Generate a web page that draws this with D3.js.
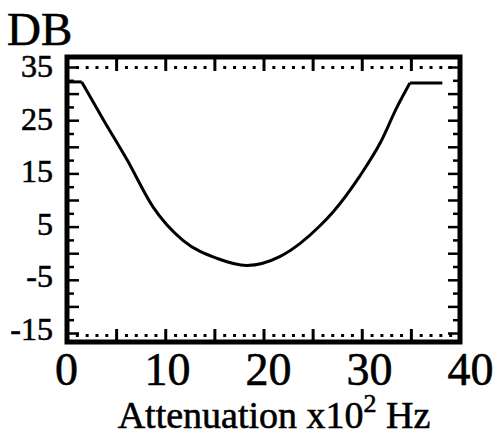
<!DOCTYPE html>
<html>
<head>
<meta charset="utf-8">
<script src="https://cdn.jsdelivr.net/npm/d3@7"></script>
<style>
  body { margin: 0; background: #fff; }
  svg { display: block; }
</style>
</head>
<body>
<div id="chart"></div>
<script>
// curve (x in 10^2 Hz, y in DB)
const freq = [0, 1.5, 3.7, 6.1, 8.75, 11.8, 15.3, 18.3, 21.7, 23.7, 25.75, 27.1, 29.8, 31.9, 33.6, 34.9, 38.2];
const db   = [32.2, 32.2, 25.1, 17.6, 8.7, 2.4, -1.0, -2.3, -0.6, 1.8, 5.15, 7.8, 14.5, 20.8, 27.5, 32.0, 32.0];

const xTicks = [0, 10, 20, 30, 40];
const yTicks = [35, 25, 15, 5, -5, -15];

const width = 494, height = 448;
const frame = {left: 67, right: 460, top: 57, bottom: 342};
const serif = '"Liberation Serif", "DejaVu Serif", serif';

const svg = d3.select('#chart').append('svg')
  .attr('width', width)
  .attr('height', height)
  .attr('viewBox', `0 0 ${width} ${height}`);

const x = d3.scaleLinear().domain([0, 40]).range([frame.left, frame.right]);
const y = d3.scaleLinear().domain([-15, 35]).range([333, 67]);
// the printed tick labels don't sit exactly on the ticks
const xLabel = d3.scaleLinear().domain([0, 40]).range([66, 470]);
const yLabel = d3.scaleLinear().domain([-15, 35]).range([329, 66]);

const ink = '#000';

function styleTicks(g, w) {
  g.select('.domain').remove();
  g.selectAll('line').attr('stroke', ink).attr('stroke-width', w);
  g.selectAll('text').remove();
}

const minorX = d3.range(1, 40).filter(d => d % 5 !== 0);
const majorX = d3.range(5, 40, 5);
const yMajor = d3.range(-15, 36, 5);
const yMinor = d3.range(-12.5, 35, 5);

// top edge: long ticks + dotted minor ticks
svg.append('g').attr('transform', `translate(0,${frame.top})`)
  .call(d3.axisBottom(x).tickValues(majorX).tickSize(14))
  .call(g => styleTicks(g, 3));
svg.append('g').attr('transform', `translate(0,${frame.top + 9})`)
  .call(d3.axisBottom(x).tickValues(minorX).tickSize(3))
  .call(g => styleTicks(g, 3));

// bottom edge
svg.append('g').attr('transform', `translate(0,${frame.bottom})`)
  .call(d3.axisTop(x).tickValues(majorX).tickSize(13))
  .call(g => styleTicks(g, 3));
svg.append('g').attr('transform', `translate(0,${frame.bottom - 5})`)
  .call(d3.axisTop(x).tickValues(minorX).tickSize(3))
  .call(g => styleTicks(g, 3));

// left and right edges
svg.append('g').attr('transform', `translate(${frame.left},0)`)
  .call(d3.axisRight(y).tickValues(yMajor).tickSize(12))
  .call(g => styleTicks(g, 2.5));
svg.append('g').attr('transform', `translate(${frame.left},0)`)
  .call(d3.axisRight(y).tickValues(yMinor).tickSize(7))
  .call(g => styleTicks(g, 2.5));
svg.append('g').attr('transform', `translate(${frame.right},0)`)
  .call(d3.axisLeft(y).tickValues(yMajor).tickSize(12))
  .call(g => styleTicks(g, 2.5));
svg.append('g').attr('transform', `translate(${frame.right},0)`)
  .call(d3.axisLeft(y).tickValues(yMinor).tickSize(7))
  .call(g => styleTicks(g, 2.5));

// frame
svg.append('rect')
  .attr('x', frame.left)
  .attr('y', frame.top)
  .attr('width', frame.right - frame.left)
  .attr('height', frame.bottom - frame.top)
  .attr('fill', 'none')
  .attr('stroke', ink)
  .attr('stroke-width', 5);

// labels (a thin stroke to get the heavy scanned look)
svg.append('g')
  .attr('transform', `translate(${frame.left},0)`)
  .call(d3.axisLeft(yLabel).tickValues(yTicks).tickSize(0).tickPadding(14).tickFormat(d => String(d)))
  .call(g => g.select('.domain').remove())
  .call(g => g.attr('font-family', serif).attr('font-size', 32))
  .call(g => g.selectAll('text').attr('fill', ink).attr('stroke', ink).attr('stroke-width', 0.6).attr('dy', '0.33em'));

svg.append('g')
  .attr('transform', `translate(0,${frame.bottom})`)
  .call(d3.axisBottom(xLabel).tickValues(xTicks).tickSize(0).tickPadding(10).tickFormat(d => String(d)))
  .call(g => g.select('.domain').remove())
  .call(g => g.attr('font-family', serif).attr('font-size', 46))
  .call(g => g.selectAll('text').attr('fill', ink).attr('stroke', ink).attr('stroke-width', 0.6));

const titles = svg.append('g')
  .attr('font-family', serif)
  .attr('fill', ink)
  .attr('stroke', ink)
  .attr('stroke-width', 0.6);
titles.append('text')
  .attr('x', 7)
  .attr('y', 45)
  .attr('font-size', 47)
  .text('DB');

const xt = titles.append('text')
  .attr('x', 274)
  .attr('y', 428)
  .attr('text-anchor', 'middle')
  .attr('font-size', 38);
xt.append('tspan').text('Attenuation x10');
xt.append('tspan').attr('font-size', 26).attr('dy', -16).text('2');
xt.append('tspan').attr('dy', 16).text('\u00a0Hz');

// curve: flat ends drawn straight, the dip smoothed
const pts = freq.map((f, i) => [f, db[i]]);
const line = d3.line().x(d => x(d[0])).y(d => y(d[1]));
const smooth = d3.line().x(d => x(d[0])).y(d => y(d[1])).curve(d3.curveMonotoneX);

const curve = svg.append('g')
  .attr('fill', 'none')
  .attr('stroke', ink)
  .attr('stroke-width', 3)
  .attr('stroke-linejoin', 'round');
curve.append('path').attr('d', line(pts.slice(0, 2)));
curve.append('path').attr('d', smooth(pts.slice(1, pts.length - 1)));
curve.append('path').attr('d', line(pts.slice(pts.length - 2)));
</script>
</body>
</html>
